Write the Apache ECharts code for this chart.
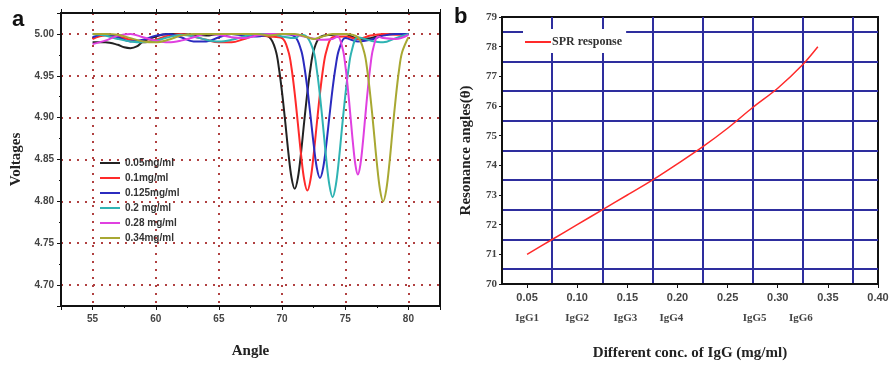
<!DOCTYPE html>
<html><head><meta charset="utf-8">
<script src="https://cdn.jsdelivr.net/npm/echarts@6/dist/echarts.min.js"></script>
<style>html,body{margin:0;padding:0;background:#fff}#c{width:894px;height:366px}</style>
</head><body><div id="c"></div>
<script>
// ---------- Panel a data (angle, voltage) ----------
const names = ['0.05mg/ml', '0.1mg/ml', '0.125mg/ml', '0.2 mg/ml', '0.28 mg/ml', '0.34mg/ml'];
const c005 = [[55,4.990],[56,4.990],[57,4.987],[57.5,4.984],[58,4.983],[58.5,4.985],[59,4.991],[60,4.997],[61,5.000],[62,5.000],[63,4.999],[64,4.998],[65,5.000],[66,5.000],[67,4.999],[68,5.000],[69,4.996],[69.5,4.980],[69.75,4.959],[70,4.930],[70.25,4.895],[70.5,4.858],[70.75,4.828],[71,4.815],[71.25,4.828],[71.5,4.858],[71.75,4.895],[72,4.930],[72.25,4.959],[72.5,4.980],[73,4.996],[74,4.999],[75,5.000],[75.5,4.997],[76,4.994],[77,4.995],[78,4.999],[79,5.000],[80,5.000]];
const c010 = [[55,4.994],[56,4.998],[57,4.997],[58,4.993],[59,4.990],[60,4.993],[61,4.998],[62,5.000],[63,4.997],[64,4.993],[65,4.990],[66,4.990],[67,4.994],[68,4.998],[69,4.997],[70,4.995],[70.5,4.979],[70.75,4.959],[71,4.929],[71.25,4.893],[71.5,4.856],[71.75,4.826],[72,4.813],[72.25,4.826],[72.5,4.856],[72.75,4.893],[73,4.929],[73.25,4.959],[73.5,4.979],[74,4.996],[75,4.997],[76,4.994],[77,4.998],[78,5.000],[79,4.999],[80,5.000]];
const c0125 = [[55,4.996],[56,5.000],[57,4.996],[58,4.991],[59,4.993],[60,4.998],[61,5.000],[62,4.996],[63,4.991],[64,4.991],[65,4.996],[66,5.000],[67,4.998],[68,4.997],[69,4.999],[70,5.000],[71,4.997],[71.5,4.981],[71.75,4.962],[72,4.935],[72.25,4.902],[72.5,4.868],[72.75,4.840],[73,4.828],[73.25,4.840],[73.5,4.868],[73.75,4.902],[74,4.935],[74.25,4.962],[74.5,4.981],[75,4.995],[76,4.991],[77,4.993],[78,4.998],[79,5.000],[80,5.000]];
const c020 = [[55,5.000],[56,4.998],[57,4.994],[58,4.991],[59,4.990],[60,4.992],[61,4.996],[62,4.999],[63,4.997],[64,4.993],[65,4.991],[66,4.993],[67,4.997],[68,5.000],[69,5.000],[70,4.997],[71,4.995],[71.5,4.999],[72,4.996],[72.5,4.979],[72.75,4.957],[73,4.926],[73.25,4.889],[73.5,4.850],[73.75,4.819],[74,4.805],[74.25,4.819],[74.5,4.850],[74.75,4.889],[75,4.926],[75.25,4.957],[75.5,4.979],[76,4.996],[77,4.992],[78,4.990],[79,4.995],[80,5.000]];
const c028 = [[55,4.988],[56,4.992],[57,4.998],[58,5.000],[59,4.996],[60,4.992],[61,4.990],[62,4.992],[63,4.996],[64,5.000],[65,4.999],[66,4.996],[67,4.995],[68,4.998],[69,5.000],[70,5.000],[71,4.999],[72,4.996],[73,4.993],[74,4.994],[74.4,4.997],[74.8,4.982],[75,4.963],[75.2,4.936],[75.4,4.904],[75.6,4.871],[75.8,4.844],[76,4.832],[76.2,4.844],[76.4,4.871],[76.6,4.904],[76.8,4.936],[77,4.963],[77.2,4.982],[77.6,4.997],[78,4.995],[79,4.994],[80,4.999]];
const c034 = [[55,5.000],[56,5.000],[57,4.999],[58,4.995],[59,4.991],[60,4.990],[61,4.993],[62,4.998],[63,5.000],[64,5.000],[65,5.000],[66,5.000],[67,5.000],[68,5.000],[69,4.998],[70,5.000],[71,5.000],[72,4.996],[72.5,4.994],[73,4.996],[74,5.000],[75,5.000],[76,4.996],[76.5,4.978],[76.75,4.956],[77,4.924],[77.25,4.886],[77.5,4.846],[77.75,4.814],[78,4.800],[78.25,4.814],[78.5,4.846],[78.75,4.886],[79,4.924],[79.25,4.956],[79.5,4.978],[80,4.996]];

// ---------- Panel b data ----------
const sprConc = [0.05, 0.075, 0.1, 0.125, 0.15, 0.175, 0.2, 0.225, 0.25, 0.275, 0.3, 0.325, 0.34];
const sprAngle = [71.0, 71.5, 72.0, 72.5, 73.0, 73.5, 74.05, 74.62, 75.25, 75.95, 76.6, 77.4, 78.0];
const igNames = ['IgG1', 'IgG2', 'IgG3', 'IgG4', 'IgG5', 'IgG6'];
const igPos = [0.05, 0.10, 0.148, 0.194, 0.277, 0.323];

const curves = [c005, c010, c0125, c020, c028, c034];
const colors = ['#222222', '#ff2a2a', '#2b2bbf', '#2fb3b3', '#e040e0', '#a8a832'];

const chart = echarts.init(document.getElementById('c'), null, {renderer: 'canvas'});
const sans = 'Liberation Sans', serif = 'Liberation Serif';
const redDots = {color: '#b04040', type: [2, 6], width: 2};
const navy = {color: '#2e2e9e', width: 2, type: 'solid'};
const blackLine = {show: true, onZero: false, lineStyle: {color: '#111', width: 2}};
const noLine = {show: false, onZero: false};

const seriesA = curves.map((d, i) => ({
  name: names[i], type: 'line', xAxisIndex: 0, yAxisIndex: 0,
  data: d, showSymbol: false, symbol: 'none', smooth: 0.35,
  lineStyle: {color: colors[i], width: 2}, itemStyle: {color: colors[i]}, z: 3
}));

const option = {
  animation: false,
  backgroundColor: '#fff',
  graphic: [
    {type: 'text', left: 12, top: 9, style: {text: 'a', font: 'bold 22px "Liberation Sans"', fill: '#111'}},
    {type: 'text', left: 454, top: 6, style: {text: 'b', font: 'bold 22px "Liberation Sans"', fill: '#111'}}
  ],
  grid: [
    {left: 61, top: 13, width: 379, height: 293, show: true, borderColor: '#111', borderWidth: 2, backgroundColor: '#fff'},
    {left: 502, top: 17, width: 376, height: 267, show: true, borderColor: '#111', borderWidth: 2, backgroundColor: '#fff'}
  ],
  legend: [
    {
      data: names, orient: 'vertical', left: 95, top: 153, itemWidth: 20, itemHeight: 12, itemGap: 5,
      textStyle: {fontFamily: sans, fontWeight: 'bold', fontSize: 10, color: '#333'},
      icon: 'path://M0,5 L20,5 L20,7 L0,7 Z'
    },
    {
      data: ['SPR response'], left: 523, top: 29, itemWidth: 26, itemHeight: 10, padding: [7, 4, 5, 2],
      backgroundColor: '#fff',
      textStyle: {fontFamily: serif, fontWeight: 'bold', fontSize: 12, color: '#333', padding: [0, 0, 0, -4]},
      icon: 'path://M0,4 L26,4 L26,6 L0,6 Z'
    }
  ],
  xAxis: [
    {
      gridIndex: 0, type: 'value', position: 'bottom', min: 52.5, max: 82.5, splitNumber: 6, minInterval: 5, maxInterval: 5,
      name: 'Angle', nameLocation: 'middle', nameGap: 38,
      nameTextStyle: {fontFamily: serif, fontWeight: 'bold', fontSize: 15, color: '#222'},
      axisLine: blackLine,
      axisTick: {show: true, length: 4, lineStyle: {color: '#111', width: 1}},
      minorTick: {show: true, splitNumber: 2, length: 2, lineStyle: {color: '#111'}},
      axisLabel: {showMinLabel: false, showMaxLabel: false, margin: 8, fontFamily: sans, fontWeight: 'bold', fontSize: 10, color: '#444'},
      splitLine: {show: true, showMinLine: false, showMaxLine: false, lineStyle: redDots}
    },
    {
      gridIndex: 0, type: 'value', position: 'top', min: 52.5, max: 82.5, splitNumber: 6, minInterval: 5, maxInterval: 5,
      axisLine: blackLine,
      axisTick: {show: true, length: 4, lineStyle: {color: '#111'}},
      minorTick: {show: true, splitNumber: 2, length: 2, lineStyle: {color: '#111'}},
      axisLabel: {show: false}, splitLine: {show: false}
    },
    {
      gridIndex: 1, type: 'value', position: 'bottom', min: 0.025, max: 0.40, splitNumber: 8, minInterval: 0.05, maxInterval: 0.05,
      name: 'Different conc. of IgG (mg/ml)', nameLocation: 'middle', nameGap: 62,
      nameTextStyle: {fontFamily: serif, fontWeight: 'bold', fontSize: 15, color: '#222'},
      axisLine: blackLine,
      axisTick: {show: true, length: 4, lineStyle: {color: '#111'}},
      axisLabel: {showMinLabel: false, margin: 8, fontFamily: sans, fontWeight: 'bold', fontSize: 11, color: '#444', formatter: v => v.toFixed(2)},
      splitLine: {show: false}
    },
    {
      gridIndex: 1, type: 'value', position: 'bottom', min: 0.025, max: 0.40,
      axisLine: noLine, axisTick: {show: false}, splitLine: {show: false},
      axisLabel: {
        customValues: igPos, margin: 29, fontFamily: serif, fontWeight: 'bold', fontSize: 11, color: '#444',
        formatter: v => { let k = 0, best = 1; igPos.forEach((p, i) => { if (Math.abs(p - v) < best) { best = Math.abs(p - v); k = i; } }); return igNames[k]; }
      }
    },
    {
      // gridline-only axis for panel b: offset half a step from the labelled ticks
      gridIndex: 1, type: 'value', position: 'top', min: -1, max: 6.5, interval: 1,
      axisLine: noLine, axisTick: {show: false}, axisLabel: {show: false},
      splitLine: {show: true, showMinLine: false, showMaxLine: false, lineStyle: navy}
    }
  ],
  yAxis: [
    {
      gridIndex: 0, type: 'value', min: 4.675, max: 5.025, splitNumber: 7, minInterval: 0.05, maxInterval: 0.05,
      name: 'Voltages', nameLocation: 'middle', nameGap: 37,
      nameTextStyle: {fontFamily: serif, fontWeight: 'bold', fontSize: 15, color: '#222'},
      axisLine: blackLine,
      axisTick: {show: true, length: 4, lineStyle: {color: '#111'}},
      minorTick: {show: true, splitNumber: 2, length: 2, lineStyle: {color: '#111'}},
      axisLabel: {showMinLabel: false, showMaxLabel: false, margin: 7, fontFamily: sans, fontWeight: 'bold', fontSize: 10, color: '#444', formatter: v => v.toFixed(2)},
      splitLine: {show: true, showMinLine: false, showMaxLine: false, lineStyle: redDots}
    },
    {
      gridIndex: 1, type: 'value', min: 70, max: 79, interval: 1,
      name: 'Resonance angles(θ)', nameLocation: 'middle', nameGap: 28,
      nameTextStyle: {fontFamily: serif, fontWeight: 'bold', fontSize: 15, color: '#222'},
      axisLine: blackLine,
      axisTick: {show: true, length: 3, lineStyle: {color: '#111'}},
      axisLabel: {margin: 5, fontFamily: serif, fontWeight: 'bold', fontSize: 11, color: '#444'},
      splitLine: {show: false}
    },
    {
      gridIndex: 1, type: 'value', position: 'right', min: -0.5, max: 8.5, splitNumber: 9, minInterval: 1, maxInterval: 1,
      axisLine: noLine, axisTick: {show: false}, axisLabel: {show: false},
      splitLine: {show: true, showMinLine: false, showMaxLine: false, lineStyle: navy}
    }
  ],
  series: seriesA.concat([
    {
      name: 'SPR response', type: 'line', xAxisIndex: 2, yAxisIndex: 1,
      data: sprConc.map((x, i) => [x, sprAngle[i]]), showSymbol: false, symbol: 'none', smooth: 0.3,
      lineStyle: {color: '#ff2a2a', width: 1.5}, itemStyle: {color: '#ff2a2a'}, z: 3
    }
  ])
};
chart.setOption(option);
</script>
</body></html>
